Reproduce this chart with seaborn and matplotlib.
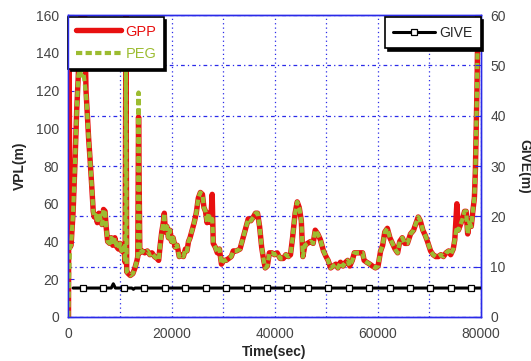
import numpy as np
import pandas as pd
import seaborn as sns
import matplotlib.pyplot as plt
from matplotlib.lines import Line2D
from matplotlib.ticker import MultipleLocator

# time axis (sec) and VPL values (m)
time_s = [0, 100, 300, 500, 900, 1300, 1600, 1900, 2200, 2500,
          2800, 3100, 3400, 3600, 3900, 4200, 4500, 4800, 5000, 5300,
          5600, 5900, 6200, 6500, 6800, 7100, 7300, 7600, 8000, 8300,
          8600, 9000, 9400, 9700, 10000, 10300, 10700, 11000, 11150, 11300,
          11600, 12000, 12500, 12900, 13300, 13450, 13600, 13850, 14300, 14800,
          15300, 15800, 16200, 16700, 17200, 17500, 17800, 18100, 18400, 18600,
          18800, 19100, 19400, 19700, 20000, 20300, 20700, 21100, 21500, 21900,
          22300, 22700, 23000, 23300, 23600, 24000, 24400, 24800, 25200, 25600,
          26000, 26300, 26600, 26900, 27200, 27600, 27900, 28100, 28500, 28900,
          29300, 29700, 30100, 30600, 31100, 31600, 32000, 32600, 33300, 33900,
          34400, 34900, 35400, 35900, 36300, 36700, 37100, 37500, 37900, 38200,
          38600, 39000, 39500, 40000, 40500, 41100, 41700, 42200, 42700, 43100,
          43500, 44000, 44400, 44800, 45200, 45500, 45900, 46400, 47000, 47500,
          47900, 48400, 48900, 49500, 50000, 50400, 50900, 51400, 51900, 52300,
          52800, 53300, 53800, 54200, 54600, 55100, 55500, 56000, 56500, 57100,
          57400, 57900, 58500, 59000, 59600, 60100, 60600, 61000, 61400, 61900,
          62400, 62900, 63400, 63900, 64300, 64800, 65300, 65800, 66400, 67000,
          67500, 67900, 68300, 68800, 69300, 69700, 70300, 70800, 71300, 71800,
          72300, 72800, 73300, 73800, 74200, 74700, 75000, 75400, 75700, 76100,
          76500, 76900, 77200, 77500, 77800, 78200, 78500, 78800, 79000, 79300,
          79500, 79700, 80000]

gpp = [0, 145, 37, 38, 56, 85, 110, 128, 150, 162,
       140, 162, 120, 110, 95, 83, 70, 56, 53, 54,
       50, 55, 52, 49, 57, 56, 48, 40, 39, 42,
       38, 42, 37, 36, 39, 35, 38, 29, 162, 24,
       23, 22, 23, 26, 30, 32, 106, 34, 35, 34,
       35, 33, 34, 32, 31, 30, 38, 45, 50, 55,
       45, 48, 42, 46, 40, 42, 37, 38, 32, 33,
       32, 36, 35, 40, 42, 46, 50, 55, 63, 66,
       65, 58, 56, 50, 55, 50, 65, 39, 37, 34,
       36, 28, 30, 30, 31, 32, 35, 35, 36, 42,
       47, 52, 51, 53, 55, 55, 48, 37, 30, 26,
       27, 34, 34, 33, 34, 31, 31, 33, 32, 33,
       42, 55, 61, 58, 51, 32, 38, 39, 40, 39,
       46, 44, 41, 35, 32, 30, 26, 27, 28, 26,
       29, 27, 29, 30, 27, 30, 34, 34, 34, 34,
       30, 29, 28, 27, 26, 27, 35, 38, 45, 47,
       42, 39, 36, 34, 40, 42, 39, 39, 44, 46,
       50, 53, 51, 46, 43, 40, 35, 33, 32, 32,
       33, 32, 34, 35, 33, 36, 41, 60, 46, 49,
       52, 56, 56, 44, 50, 48, 56, 63, 78, 120,
       162, 162, 150]

# PEG follows GPP except at these times
peg_diff = {100: 20, 2200: 131, 2500: 128, 2800: 132, 3100: 125, 3400: 118,
            11150: 135, 13600: 119, 27900: 52, 75400: 48}
peg = [peg_diff.get(t, v) for t, v in zip(time_s, gpp)]

# GIVE (m), right axis
give_t = [900, 8300, 8700, 9100, 12300, 12600, 12900, 80000]
give_v = [5.75, 5.75, 6.6, 5.75, 5.75, 5.5, 5.75, 5.75]
give_mark_t = [2820, 6790, 10750, 14720, 18690, 22660, 26620, 30590, 34560, 38520,
               42490, 46460, 50430, 54390, 58360, 62330, 66300, 70260, 74230, 78200]
give_mark_v = [5.75] * len(give_mark_t)

df = pd.DataFrame({'time': time_s, 'GPP': gpp, 'PEG': peg})

sns.set_style('white')
plt.rcParams['font.family'] = ['Liberation Sans', 'DejaVu Sans']
plt.rcParams['font.size'] = 10

blue = '#2a2ae8'
red = '#e81010'
green = '#9cbc30'
grey = '#444444'

fig = plt.figure(figsize=(5.31, 3.61), dpi=100)
ax = fig.add_axes([0.129, 0.122, 0.776, 0.836])

sns.lineplot(data=df, x='time', y='GPP', ax=ax, color=red, linewidth=3.9,
             estimator=None, sort=False, label='GPP', zorder=3)
sns.lineplot(data=df, x='time', y='PEG', ax=ax, color=green, linewidth=3.0,
             linestyle=(0, (1.5, 0.8)), estimator=None, sort=False,
             label='PEG', zorder=4)

ax.set_xlim(0, 80000)
ax.set_ylim(0, 160)
ax.xaxis.set_major_locator(MultipleLocator(20000))
ax.yaxis.set_major_locator(MultipleLocator(20))
ax.xaxis.set_minor_locator(MultipleLocator(10000))
ax.yaxis.set_minor_locator(MultipleLocator(160 / 6))
ax.xaxis.remove_overlapping_locs = False
ax.yaxis.remove_overlapping_locs = False
ax.grid(False)
ax.grid(which='minor', axis='x', color=blue, linestyle=(0, (1, 2.5)), linewidth=0.9)
ax.grid(which='minor', axis='y', color=blue, linestyle=(0, (3, 2.5, 1, 2.5)), linewidth=0.9)
ax.tick_params(which='minor', length=0)
ax.tick_params(which='major', direction='in', length=4, color=blue, labelcolor=grey,
               labelsize=10, pad=7)
for s in ax.spines.values():
    s.set_color(blue)
    s.set_linewidth(1.0)

ax.set_xlabel('Time(sec)', fontweight='bold', fontsize=10, labelpad=3)
ax.set_ylabel('VPL(m)', fontweight='bold', fontsize=10, labelpad=6)

leg = ax.legend(loc='upper left', bbox_to_anchor=(0.0, 0.993), borderaxespad=0,
                frameon=True, fancybox=False, edgecolor='black', framealpha=1,
                shadow={'color': 'black', 'alpha': 1}, handlelength=3.1,
                handletextpad=0.3, labelspacing=0.6, borderpad=0.5, fontsize=10.5)
leg.get_frame().set_linewidth(1.2)
leg.get_texts()[0].set_color(red)
leg.get_texts()[1].set_color(green)

ax2 = ax.twinx()
ax2.plot(give_t, give_v, color='black', linewidth=2.2, zorder=3)
ax2.plot(give_mark_t, give_mark_v, linestyle='none', marker='s', markersize=5,
         markerfacecolor='white', markeredgecolor='black', markeredgewidth=0.9, zorder=4)
ax2.set_ylim(0, 60)
ax2.yaxis.set_major_locator(MultipleLocator(10))
ax2.grid(False)
ax2.tick_params(direction='in', length=4, color=blue, labelcolor=grey, labelsize=10, pad=7)
for s in ax2.spines.values():
    s.set_color(blue)
    s.set_linewidth(1.0)
ax2.set_ylabel('GIVE(m)', fontweight='bold', fontsize=10, rotation=270,
               va='bottom', labelpad=8)

give_handle = Line2D([0, 1], [0, 0], color='black', linewidth=2.2, marker='s',
                     markersize=5, markerfacecolor='white', markeredgecolor='black',
                     markeredgewidth=0.9)
leg2 = ax2.legend([give_handle], ['GIVE'], loc='upper right',
                  bbox_to_anchor=(1.0, 0.993), borderaxespad=0, frameon=True,
                  fancybox=False, edgecolor='black', framealpha=1,
                  shadow={'color': 'black', 'alpha': 1}, handlelength=3.0,
                  handletextpad=0.3, borderpad=0.6, fontsize=10, numpoints=1)
leg2.get_frame().set_linewidth(1.2)

fig.savefig('out.png', dpi=100)
